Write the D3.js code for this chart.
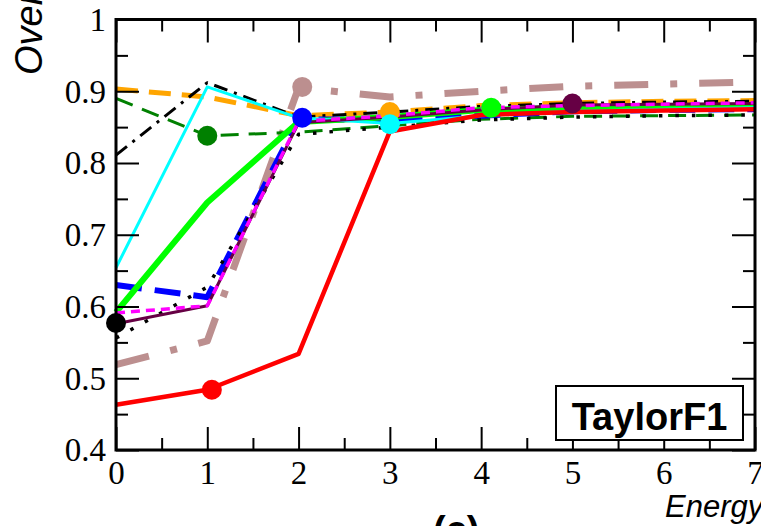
<!DOCTYPE html>
<html>
<head>
<meta charset="utf-8">
<script src="https://cdn.jsdelivr.net/npm/d3@7"></script>
<style>
  html, body { margin: 0; padding: 0; background: #fff; overflow: hidden; }
  svg { display: block; }
</style>
</head>
<body>
<svg id="chart" width="761" height="526"></svg>
<script>
// Energy grid shared by every curve
const energy = [0, 1, 2, 3, 4, 5, 6, 7];

// Axis ticks
const xTicks = [0, 1, 2, 3, 4, 5, 6, 7];
const xMinorTicks = [0.5, 1.5, 2.5, 3.5, 4.5, 5.5, 6.5];
const yTicks = [0.4, 0.5, 0.6, 0.7, 0.8, 0.9, 1.0];
const yTickLabels = ["0.4", "0.5", "0.6", "0.7", "0.8", "0.9", "1"];
const yMinorTicks = [0.45, 0.55, 0.65, 0.75, 0.85, 0.95];

// Overlap values per curve, one per energy
const rosyVals    = [0.519, 0.552, 0.905, 0.892, 0.900, 0.907, 0.910, 0.913];
const darkGreenVals = [0.890, 0.838, 0.843, 0.852, 0.861, 0.865, 0.866, 0.867];
const orangeVals  = [0.903, 0.892, 0.866, 0.871, 0.880, 0.884, 0.886, 0.887];
const dashDotVals = [0.811, 0.912, 0.864, 0.871, 0.879, 0.883, 0.885, 0.886];
const blueVals    = [0.630, 0.613, 0.861, 0.860, 0.866, 0.872, 0.874, 0.875];
const limeVals    = [0.592, 0.745, 0.857, 0.864, 0.874, 0.877, 0.878, 0.879];
const cyanVals    = [0.654, 0.906, 0.863, 0.855, 0.866, 0.872, 0.875, 0.877];
const dottedVals  = [0.556, 0.627, 0.840, 0.850, 0.860, 0.864, 0.866, 0.867];
const maroonVals  = [0.576, 0.601, 0.856, 0.864, 0.874, 0.881, 0.882, 0.883];
const magentaVals = [0.591, 0.601, 0.858, 0.866, 0.877, 0.880, 0.882, 0.884];
const redVals     = [0.463, 0.484, 0.534, 0.844, 0.867, 0.871, 0.873, 0.875];

// Symbol position (energy, overlap) for each curve
const rosyMark      = [2.04, 0.906];
const darkGreenMark = [1.0, 0.838];
const orangeMark    = [3.0, 0.871];
const blueMark      = [2.04, 0.863];
const limeMark      = [4.11, 0.877];
const cyanMark      = [3.0, 0.854];
const dottedMark    = [0.0, 0.577];
const maroonMark    = [5.0, 0.883];
const redMark       = [1.05, 0.484];

const legendText = "TaylorF1";
const xTitle = "Energy";
const yTitle = "Overlap";
const panelTag = "(c)";

// Drawing styles for each curve (bottom to top)
const curves = [
  { vals: rosyVals,      mark: rosyMark,      color: "#bc8f8f", width: 7,   dash: "34,22,7,22" },
  { vals: darkGreenVals, mark: darkGreenMark, color: "#008000", width: 3,   dash: "18,10" },
  { vals: orangeVals,    mark: orangeMark,    color: "#ffa500", width: 5,   dash: "22,11" },
  { vals: dashDotVals,   mark: null,          color: "#000000", width: 3,   dash: "14,7,3,7" },
  { vals: blueVals,      mark: blueMark,      color: "#0000ff", width: 6,   dash: "26,13" },
  { vals: limeVals,      mark: limeMark,      color: "#00ff00", width: 6,   dash: null },
  { vals: cyanVals,      mark: cyanMark,      color: "#00ffff", width: 3,   dash: null },
  { vals: dottedVals,    mark: dottedMark,    color: "#000000", width: 3.5, dash: "3.5,13" },
  { vals: maroonVals,    mark: maroonMark,    color: "#660044", width: 3,   dash: null },
  { vals: magentaVals,   mark: null,          color: "#ff00ff", width: 3.5, dash: "9,6" },
  { vals: redVals,       mark: redMark,       color: "#ff0000", width: 4.5, dash: null }
];

const svg = d3.select("#chart");
const x = d3.scaleLinear().domain([0, 7]).range([116, 755]);
const y = d3.scaleLinear().domain([0.4, 1.0]).range([450, 19.5]);

const serif = "'Liberation Serif', 'Times New Roman', serif";
const sans = "'Liberation Sans', Arial, sans-serif";

// Curves
const line = d3.line()
  .x((d, i) => x(energy[i]))
  .y(d => y(d));

const gLines = svg.append("g");
curves.forEach(c => {
  gLines.append("path")
    .datum(c.vals)
    .attr("d", line)
    .attr("fill", "none")
    .attr("stroke", c.color)
    .attr("stroke-width", c.width)
    .attr("stroke-dasharray", c.dash)
    .attr("stroke-linejoin", "round");
});

// Symbols
const gMarks = svg.append("g");
curves.filter(c => c.mark).forEach(c => {
  gMarks.append("circle")
    .attr("cx", x(c.mark[0]))
    .attr("cy", y(c.mark[1]))
    .attr("r", 10)
    .attr("fill", c.color);
});

// Axes: ticks point inward on all four sides
function styleAxis(g) {
  g.select(".domain").remove();
  g.selectAll(".tick line").attr("stroke", "#000").attr("stroke-width", 2);
  g.selectAll("text").attr("fill", "#000");
}

const bottom = svg.append("g").attr("transform", "translate(0,450)");
bottom.call(d3.axisBottom(x).tickValues(xTicks).tickSize(-23).tickFormat(d3.format("d")));
bottom.call(styleAxis);
bottom.selectAll("text")
  .attr("y", 34).attr("dy", 0)
  .style("font-family", serif).style("font-size", "33px");
svg.append("g").attr("transform", "translate(0,450)")
  .call(d3.axisBottom(x).tickValues(xMinorTicks).tickSize(-12).tickFormat(""))
  .call(styleAxis);

const left = svg.append("g").attr("transform", "translate(116,0)");
left.call(d3.axisLeft(y).tickValues(yTicks).tickSize(-23).tickFormat((d, i) => yTickLabels[i]));
left.call(styleAxis);
left.selectAll("text")
  .attr("x", -10).attr("dy", "0.33em")
  .style("font-family", serif).style("font-size", "33px");
svg.append("g").attr("transform", "translate(116,0)")
  .call(d3.axisLeft(y).tickValues(yMinorTicks).tickSize(-12).tickFormat(""))
  .call(styleAxis);

svg.append("g").attr("transform", "translate(0,19.5)")
  .call(d3.axisTop(x).tickValues(xTicks).tickSize(-23).tickFormat(""))
  .call(styleAxis);
svg.append("g").attr("transform", "translate(0,19.5)")
  .call(d3.axisTop(x).tickValues(xMinorTicks).tickSize(-12).tickFormat(""))
  .call(styleAxis);

svg.append("g").attr("transform", "translate(755,0)")
  .call(d3.axisRight(y).tickValues(yTicks).tickSize(-23).tickFormat(""))
  .call(styleAxis);
svg.append("g").attr("transform", "translate(755,0)")
  .call(d3.axisRight(y).tickValues(yMinorTicks).tickSize(-12).tickFormat(""))
  .call(styleAxis);

// Frame
svg.append("rect")
  .attr("x", x(0)).attr("y", y(1))
  .attr("width", x(7) - x(0)).attr("height", y(0.4) - y(1))
  .attr("fill", "none").attr("stroke", "#000").attr("stroke-width", 3);

// Legend box
svg.append("rect")
  .attr("x", 556).attr("y", 386).attr("width", 187).attr("height", 54)
  .attr("fill", "#fff").attr("stroke", "#000").attr("stroke-width", 2);
svg.append("text")
  .attr("x", 649.5).attr("y", 430)
  .attr("text-anchor", "middle")
  .style("font-family", sans).style("font-weight", "bold").style("font-size", "38px")
  .text(legendText);

// Titles
svg.append("text")
  .attr("x", 665).attr("y", 517)
  .style("font-family", sans).style("font-style", "italic").style("font-size", "31px")
  .text(xTitle);
svg.append("text")
  .attr("transform", "translate(42,75) rotate(-90)")
  .style("font-family", sans).style("font-style", "italic").style("font-size", "38px")
  .text(yTitle);
svg.append("text")
  .attr("x", 433).attr("y", 543)
  .style("font-family", sans).style("font-weight", "bold").style("font-size", "38px")
  .text(panelTag);
</script>
</body>
</html>
